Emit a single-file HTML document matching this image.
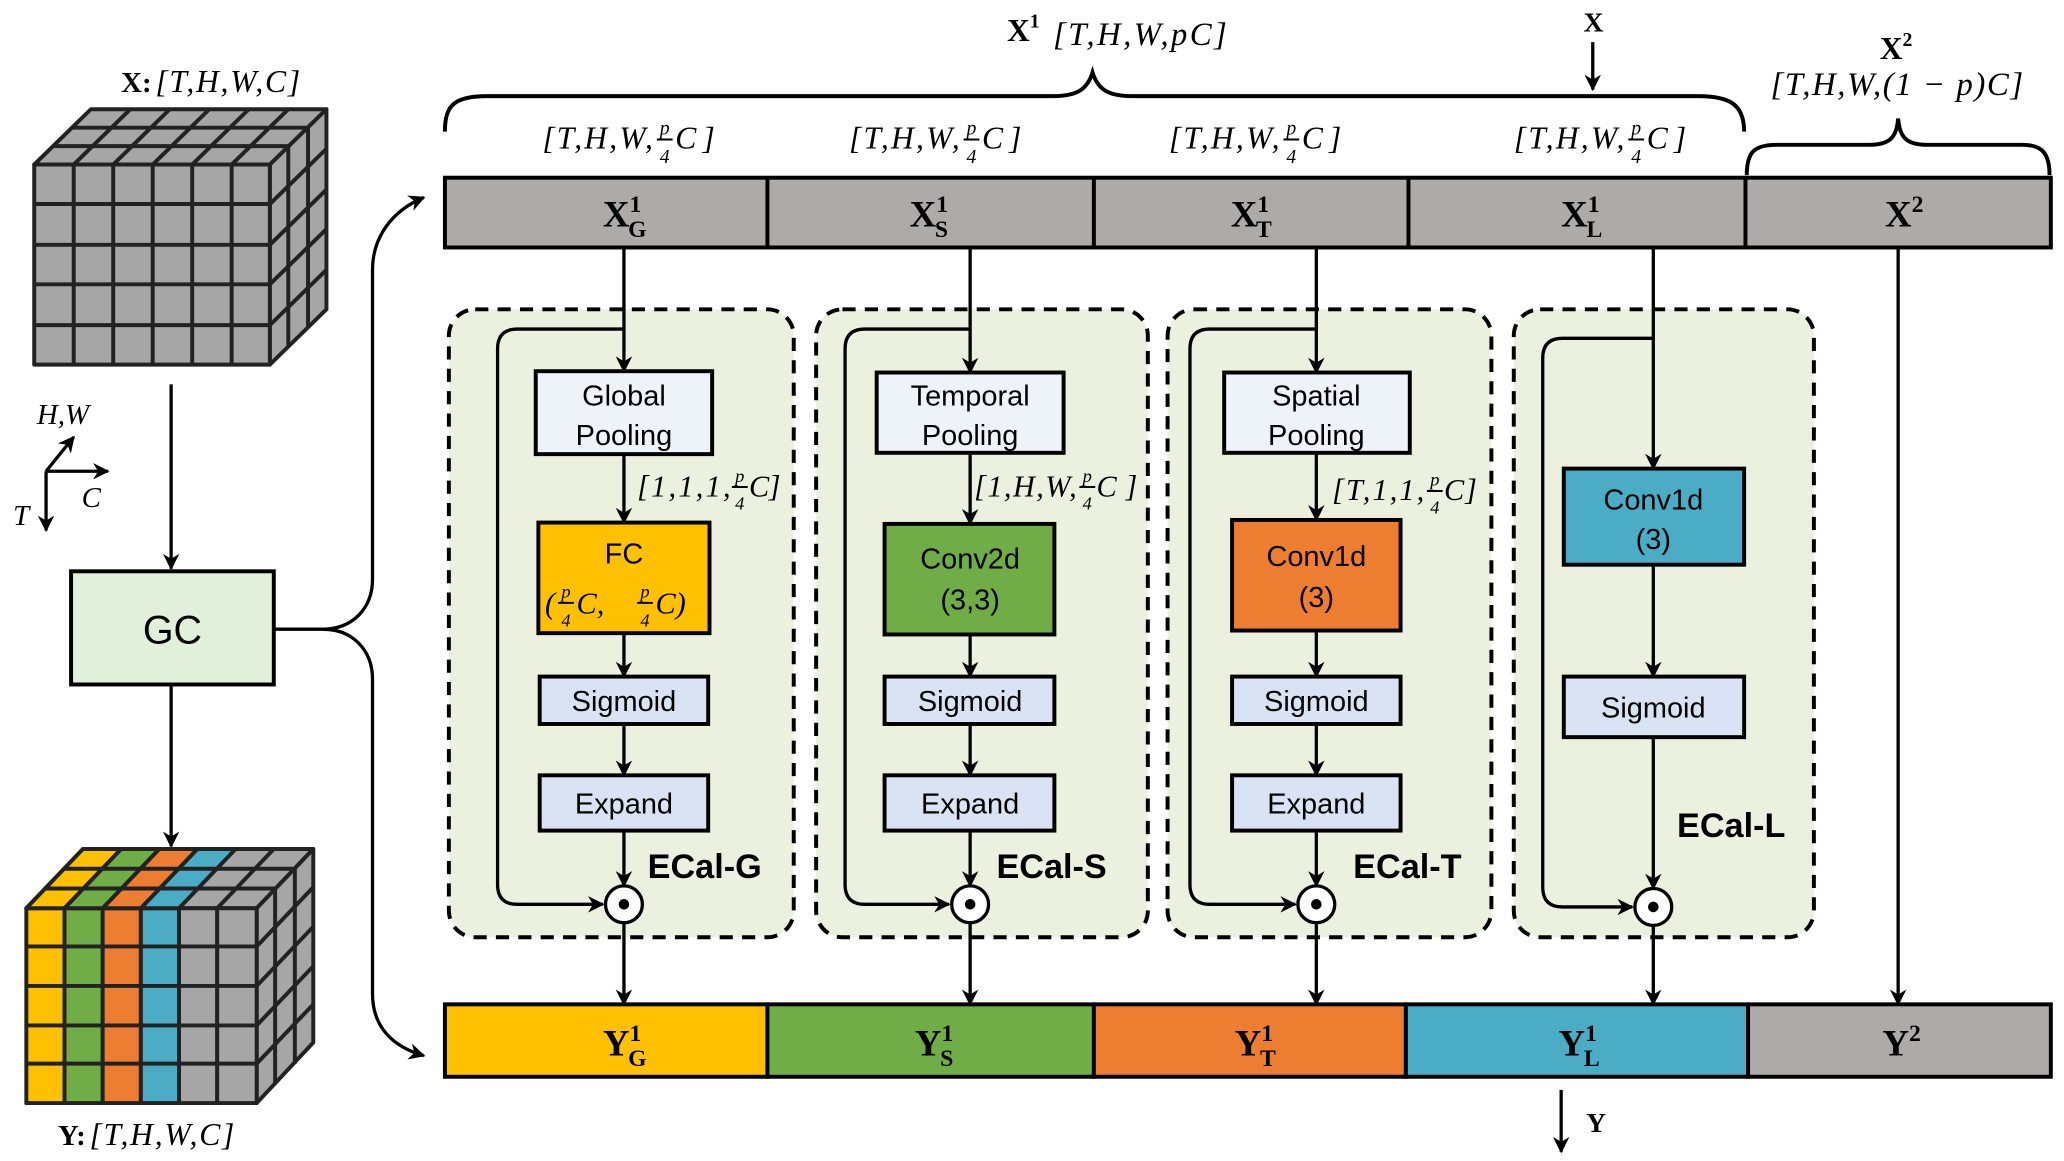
<!DOCTYPE html>
<html><head><meta charset="utf-8"><style>
html,body{margin:0;padding:0;background:#fff;}
svg{display:block;}
.s{font-family:"Liberation Sans",sans-serif;}
.m{font-family:"Liberation Serif",serif;font-style:italic;}
.b{font-family:"Liberation Serif",serif;font-weight:bold;}
</style></head><body>
<svg width="2064" height="1161" viewBox="0 0 1568 882" preserveAspectRatio="none" xmlns="http://www.w3.org/2000/svg">
<defs>
<marker id="a" viewBox="0 0 10 10" refX="9" refY="5" markerWidth="5" markerHeight="5" orient="auto-start-reverse" markerUnits="strokeWidth"><path d="M0,0 L10,5 L0,10 L3,5 z" fill="#000"/></marker>
</defs>

<!-- Top brace X1 -->
<path d="M338,100 C338,80 345,73 370,73 L800,73 C818,73 826,68 830,55 C834,68 842,73 860,73 L1290,73 C1315,73 1325,80 1325,100" fill="none" stroke="#000" stroke-width="3"/>
<text x="765" y="31" class="b" font-size="24">X<tspan font-size="15" dy="-10">1</tspan></text>
<text x="800" y="34" class="m" font-size="25" textLength="132" lengthAdjust="spacing">[T,H,W,pC]</text>
<text x="1203" y="24" class="b" font-size="21">X</text>
<line x1="1210" y1="32" x2="1210" y2="68" stroke="#000" stroke-width="2.5" marker-end="url(#a)"/>
<text x="1428" y="45" class="b" font-size="24">X<tspan font-size="15" dy="-10">2</tspan></text>
<text x="1345" y="72" class="m" font-size="25" textLength="192" lengthAdjust="spacing">[T,H,W,(1 − p)C]</text>
<path d="M1327,133 C1327,115 1333,110 1350,110 L1420,110 C1436,110 1441,104 1442,90 C1443,104 1448,110 1464,110 L1536,110 C1552,110 1557,117 1557,133" fill="none" stroke="#000" stroke-width="3"/>

<!-- sub labels -->
<g class="m" font-size="24">
<text x="412" y="113" textLength="84" lengthAdjust="spacing">[T,H,W,</text><text x="505" y="102" font-size="15" text-anchor="middle">p</text><line x1="499" y1="106" x2="511" y2="106" stroke="#000" stroke-width="1.5"/><text x="505" y="124" font-size="15" text-anchor="middle">4</text><text x="513" y="113" textLength="30" lengthAdjust="spacing">C]</text>
<text x="645" y="113" textLength="84" lengthAdjust="spacing">[T,H,W,</text><text x="738" y="102" font-size="15" text-anchor="middle">p</text><line x1="732" y1="106" x2="744" y2="106" stroke="#000" stroke-width="1.5"/><text x="738" y="124" font-size="15" text-anchor="middle">4</text><text x="746" y="113" textLength="30" lengthAdjust="spacing">C]</text>
<text x="888" y="113" textLength="84" lengthAdjust="spacing">[T,H,W,</text><text x="981" y="102" font-size="15" text-anchor="middle">p</text><line x1="975" y1="106" x2="987" y2="106" stroke="#000" stroke-width="1.5"/><text x="981" y="124" font-size="15" text-anchor="middle">4</text><text x="989" y="113" textLength="30" lengthAdjust="spacing">C]</text>
<text x="1150" y="113" textLength="84" lengthAdjust="spacing">[T,H,W,</text><text x="1243" y="102" font-size="15" text-anchor="middle">p</text><line x1="1237" y1="106" x2="1249" y2="106" stroke="#000" stroke-width="1.5"/><text x="1243" y="124" font-size="15" text-anchor="middle">4</text><text x="1251" y="113" textLength="30" lengthAdjust="spacing">C]</text>
</g>

<!-- Top bar -->
<rect x="338" y="135" width="1220" height="53" fill="#aeaaaa" stroke="#000" stroke-width="3"/>
<g stroke="#000" stroke-width="3"><line x1="583" y1="135" x2="583" y2="188"/><line x1="831" y1="135" x2="831" y2="188"/><line x1="1070" y1="135" x2="1070" y2="188"/><line x1="1326" y1="135" x2="1326" y2="188"/></g>
<g class="b" font-size="28">
<text x="458" y="172">X<tspan font-size="18" dy="-11">1</tspan><tspan font-size="18" dx="-10" dy="19">G</tspan></text>
<text x="691" y="172">X<tspan font-size="18" dy="-11">1</tspan><tspan font-size="18" dx="-10" dy="19">S</tspan></text>
<text x="935" y="172">X<tspan font-size="18" dy="-11">1</tspan><tspan font-size="18" dx="-10" dy="19">T</tspan></text>
<text x="1186" y="172">X<tspan font-size="18" dy="-11">1</tspan><tspan font-size="18" dx="-10" dy="19">L</tspan></text>
<text x="1432" y="172">X<tspan font-size="18" dy="-11">2</tspan></text>
</g>

<!-- panels -->
<g fill="#ebf1de" stroke="#000" stroke-width="3" stroke-dasharray="10,7">
<rect x="341" y="235" width="262" height="477" rx="20"/>
<rect x="620" y="235" width="252" height="477" rx="20"/>
<rect x="887" y="235" width="246" height="477" rx="20"/>
<rect x="1150" y="235" width="228" height="477" rx="20"/>
</g>

<!-- skip loops -->
<g fill="none" stroke="#000" stroke-width="2.5">
<path d="M474,250 L393,250 Q378,250 378,265 L378,672 Q378,687 393,687 L458,687" marker-end="url(#a)"/>
<path d="M737,250 L657,250 Q642,250 642,265 L642,672 Q642,687 657,687 L721,687" marker-end="url(#a)"/>
<path d="M1000,250 L919,250 Q904,250 904,265 L904,672 Q904,687 919,687 L984,687" marker-end="url(#a)"/>
<path d="M1256,257 L1187,257 Q1172,257 1172,272 L1172,674 Q1172,689 1187,689 L1240,689" marker-end="url(#a)"/>
</g>

<!-- vertical flow -->
<g stroke="#000" stroke-width="2.5" marker-end="url(#a)">
<line x1="474" y1="188" x2="474" y2="282"/><line x1="474" y1="345" x2="474" y2="397"/><line x1="474" y1="481" x2="474" y2="514"/><line x1="474" y1="550" x2="474" y2="589"/><line x1="474" y1="631" x2="474" y2="673"/><line x1="474" y1="701" x2="474" y2="763"/>
<line x1="737" y1="188" x2="737" y2="283"/><line x1="737" y1="344" x2="737" y2="398"/><line x1="737" y1="482" x2="737" y2="514"/><line x1="737" y1="550" x2="737" y2="589"/><line x1="737" y1="631" x2="737" y2="673"/><line x1="737" y1="701" x2="737" y2="763"/>
<line x1="1000" y1="188" x2="1000" y2="283"/><line x1="1000" y1="344" x2="1000" y2="395"/><line x1="1000" y1="479" x2="1000" y2="514"/><line x1="1000" y1="550" x2="1000" y2="589"/><line x1="1000" y1="631" x2="1000" y2="673"/><line x1="1000" y1="701" x2="1000" y2="763"/>
<line x1="1256" y1="188" x2="1256" y2="356"/><line x1="1256" y1="429" x2="1256" y2="514"/><line x1="1256" y1="560" x2="1256" y2="675"/><line x1="1256" y1="703" x2="1256" y2="763"/>
<line x1="1442" y1="188" x2="1442" y2="763"/>
<line x1="1186" y1="828" x2="1186" y2="875"/>
</g>

<!-- boxes -->
<g stroke="#000" stroke-width="3">
<rect x="407" y="282" width="134" height="63" fill="#eef3fa"/>
<rect x="409" y="397" width="130" height="84" fill="#ffc000"/>
<rect x="410" y="514" width="128" height="36" fill="#dae3f3"/>
<rect x="410" y="589" width="128" height="42" fill="#dae3f3"/>
<rect x="666" y="283" width="142" height="61" fill="#eef3fa"/>
<rect x="672" y="398" width="129" height="84" fill="#70ad47"/>
<rect x="672" y="514" width="129" height="36" fill="#dae3f3"/>
<rect x="672" y="589" width="129" height="42" fill="#dae3f3"/>
<rect x="930" y="283" width="141" height="61" fill="#eef3fa"/>
<rect x="936" y="395" width="128" height="84" fill="#ed7d31"/>
<rect x="936" y="514" width="128" height="36" fill="#dae3f3"/>
<rect x="936" y="589" width="128" height="42" fill="#dae3f3"/>
<rect x="1188" y="356" width="137" height="73" fill="#4bacc6"/>
<rect x="1188" y="514" width="137" height="46" fill="#dae3f3"/>
</g>
<g class="s" font-size="22" text-anchor="middle">
<text x="474" y="308">Global</text><text x="474" y="338">Pooling</text>
<text x="474" y="428">FC</text>
<text x="474" y="540">Sigmoid</text><text x="474" y="618">Expand</text>
<text x="737" y="308">Temporal</text><text x="737" y="338">Pooling</text>
<text x="737" y="432">Conv2d</text><text x="737" y="463">(3,3)</text>
<text x="737" y="540">Sigmoid</text><text x="737" y="618">Expand</text>
<text x="1000" y="308">Spatial</text><text x="1000" y="338">Pooling</text>
<text x="1000" y="430">Conv1d</text><text x="1000" y="461">(3)</text>
<text x="1000" y="540">Sigmoid</text><text x="1000" y="618">Expand</text>
<text x="1256" y="387">Conv1d</text><text x="1256" y="417">(3)</text>
<text x="1256" y="545">Sigmoid</text>
</g>
<!-- FC params -->
<g class="m" font-size="23">
<text x="414" y="466">(</text>
<text x="430" y="454" font-size="14" text-anchor="middle">p</text><line x1="424" y1="458" x2="436" y2="458" stroke="#000" stroke-width="1.5"/><text x="430" y="476" font-size="14" text-anchor="middle">4</text>
<text x="438" y="466">C,</text>
<text x="490" y="454" font-size="14" text-anchor="middle">p</text><line x1="484" y1="458" x2="496" y2="458" stroke="#000" stroke-width="1.5"/><text x="490" y="476" font-size="14" text-anchor="middle">4</text>
<text x="498" y="466">C)</text>
</g>

<!-- dim labels -->
<g class="m" font-size="23">
<text x="484" y="377" textLength="71" lengthAdjust="spacing">[1,1,1,</text><text x="562" y="366" font-size="14" text-anchor="middle">p</text><line x1="556" y1="370" x2="568" y2="370" stroke="#000" stroke-width="1.5"/><text x="562" y="387" font-size="14" text-anchor="middle">4</text><text x="569" y="377" textLength="24" lengthAdjust="spacing">C]</text>
<text x="740" y="377" textLength="78" lengthAdjust="spacing">[1,H,W,</text><text x="826" y="366" font-size="14" text-anchor="middle">p</text><line x1="820" y1="370" x2="832" y2="370" stroke="#000" stroke-width="1.5"/><text x="826" y="387" font-size="14" text-anchor="middle">4</text><text x="833" y="377" textLength="31" lengthAdjust="spacing">C]</text>
<text x="1012" y="380" textLength="70" lengthAdjust="spacing">[T,1,1,</text><text x="1090" y="369" font-size="14" text-anchor="middle">p</text><line x1="1084" y1="373" x2="1096" y2="373" stroke="#000" stroke-width="1.5"/><text x="1090" y="390" font-size="14" text-anchor="middle">4</text><text x="1097" y="380" textLength="25" lengthAdjust="spacing">C]</text>
</g>

<!-- odot -->
<g stroke="#000" stroke-width="2.5" fill="#fff">
<circle cx="474" cy="687" r="14"/><circle cx="737" cy="687" r="14"/><circle cx="1000" cy="687" r="14"/><circle cx="1256" cy="689" r="14"/>
</g>
<g fill="#000"><circle cx="474" cy="687" r="4"/><circle cx="737" cy="687" r="4"/><circle cx="1000" cy="687" r="4"/><circle cx="1256" cy="689" r="4"/></g>

<g class="s" font-size="26" font-weight="bold">
<text x="492" y="667">ECal-G</text><text x="757" y="667">ECal-S</text><text x="1028" y="667">ECal-T</text><text x="1274" y="636">ECal-L</text>
</g>

<!-- bottom bar -->
<g stroke="#000" stroke-width="3">
<rect x="338" y="763" width="245" height="55" fill="#ffc000"/>
<rect x="583" y="763" width="248" height="55" fill="#70ad47"/>
<rect x="831" y="763" width="237" height="55" fill="#ed7d31"/>
<rect x="1068" y="763" width="260" height="55" fill="#4bacc6"/>
<rect x="1328" y="763" width="230" height="55" fill="#aeaaaa"/>
</g>
<g class="b" font-size="28">
<text x="458" y="802">Y<tspan font-size="18" dy="-11">1</tspan><tspan font-size="18" dx="-10" dy="19">G</tspan></text>
<text x="695" y="802">Y<tspan font-size="18" dy="-11">1</tspan><tspan font-size="18" dx="-10" dy="19">S</tspan></text>
<text x="938" y="802">Y<tspan font-size="18" dy="-11">1</tspan><tspan font-size="18" dx="-10" dy="19">T</tspan></text>
<text x="1184" y="802">Y<tspan font-size="18" dy="-11">1</tspan><tspan font-size="18" dx="-10" dy="19">L</tspan></text>
<text x="1430" y="802">Y<tspan font-size="18" dy="-11">2</tspan></text>
</g>
<text x="1205" y="860" class="b" font-size="21">Y</text>

<!-- GC -->
<rect x="54" y="434" width="154" height="86" fill="#e2efda" stroke="#000" stroke-width="3"/>
<text x="131" y="489" class="s" font-size="30" text-anchor="middle">GC</text>
<g fill="none" stroke="#000" stroke-width="2.5">
<path d="M208,478 L245,478 C268,478 283,462 283,440 L283,205 C283,180 298,160 322,150" marker-end="url(#a)"/>
<path d="M245,478 C268,478 283,494 283,516 L283,755 C283,780 298,795 322,802" marker-end="url(#a)"/>
<line x1="130" y1="292" x2="130" y2="432" marker-end="url(#a)"/>
<line x1="130" y1="520" x2="130" y2="643" marker-end="url(#a)"/>
</g>

<!-- X cube -->
<text x="92" y="70" class="b" font-size="22">X:</text><text x="118" y="70" class="m" font-size="24" textLength="110" lengthAdjust="spacing">[T,H,W,C]</text>
<g stroke="#222" stroke-width="3" fill="#a6a6a6" stroke-linejoin="round">
<polygon points="26,125 205,125 248,83 69,83"/>
<polygon points="205,125 248,83 248,235 205,277"/>
<rect x="26" y="125" width="179" height="152"/>
</g>
<g stroke="#222" stroke-width="3">
<line x1="56" y1="125" x2="56" y2="277"/><line x1="86" y1="125" x2="86" y2="277"/><line x1="116" y1="125" x2="116" y2="277"/><line x1="146" y1="125" x2="146" y2="277"/><line x1="176" y1="125" x2="176" y2="277"/>
<line x1="26" y1="155" x2="205" y2="155"/><line x1="26" y1="186" x2="205" y2="186"/><line x1="26" y1="216" x2="205" y2="216"/><line x1="26" y1="247" x2="205" y2="247"/>
<line x1="40" y1="111" x2="219" y2="111"/><line x1="55" y1="97" x2="234" y2="97"/>
<line x1="56" y1="125" x2="99" y2="83"/><line x1="86" y1="125" x2="129" y2="83"/><line x1="116" y1="125" x2="159" y2="83"/><line x1="146" y1="125" x2="189" y2="83"/><line x1="176" y1="125" x2="219" y2="83"/>
<line x1="219" y1="111" x2="219" y2="263"/><line x1="234" y1="97" x2="234" y2="249"/>
<line x1="205" y1="155" x2="248" y2="113"/><line x1="205" y1="186" x2="248" y2="144"/><line x1="205" y1="216" x2="248" y2="174"/><line x1="205" y1="247" x2="248" y2="205"/>
</g>

<!-- axes -->
<text x="28" y="322" class="m" font-size="22">H,W</text>
<text x="10" y="399" class="m" font-size="22">T</text>
<text x="62" y="385" class="m" font-size="22">C</text>
<g stroke="#000" stroke-width="2.5" marker-end="url(#a)">
<line x1="35" y1="358" x2="56" y2="332"/><line x1="35" y1="358" x2="82" y2="358"/><line x1="35" y1="358" x2="35" y2="403"/>
</g>

<!-- Y cube -->
<g stroke="#222" stroke-width="3" stroke-linejoin="round">
<polygon points="20,690 195,690 238,645 63,645" fill="#a6a6a6"/>
<polygon points="195,690 238,645 238,792 195,838" fill="#a6a6a6"/>
<rect x="20" y="690" width="29" height="148" fill="#ffc000"/>
<rect x="49" y="690" width="29" height="148" fill="#70ad47"/>
<rect x="78" y="690" width="29" height="148" fill="#ed7d31"/>
<rect x="107" y="690" width="29" height="148" fill="#4bacc6"/>
<rect x="136" y="690" width="29" height="148" fill="#a6a6a6"/>
<rect x="165" y="690" width="30" height="148" fill="#a6a6a6"/>
<polygon points="20,690 49,690 92,645 63,645" fill="#ffc000"/>
<polygon points="49,690 78,690 121,645 92,645" fill="#70ad47"/>
<polygon points="78,690 107,690 150,645 121,645" fill="#ed7d31"/>
<polygon points="107,690 136,690 179,645 150,645" fill="#4bacc6"/>
</g>
<g stroke="#222" stroke-width="3">
<line x1="20" y1="719" x2="195" y2="719"/><line x1="20" y1="749" x2="195" y2="749"/><line x1="20" y1="779" x2="195" y2="779"/><line x1="20" y1="808" x2="195" y2="808"/>
<line x1="34" y1="675" x2="209" y2="675"/><line x1="49" y1="660" x2="224" y2="660"/>
<line x1="209" y1="675" x2="209" y2="823"/><line x1="224" y1="660" x2="224" y2="808"/>
<line x1="195" y1="719" x2="238" y2="674"/><line x1="195" y1="749" x2="238" y2="704"/><line x1="195" y1="779" x2="238" y2="734"/><line x1="195" y1="808" x2="238" y2="763"/>
<line x1="165" y1="690" x2="208" y2="645"/>
</g>
<text x="44" y="870" class="b" font-size="22">Y:</text><text x="68" y="870" class="m" font-size="24" textLength="110" lengthAdjust="spacing">[T,H,W,C]</text>
</svg>
</body></html>
